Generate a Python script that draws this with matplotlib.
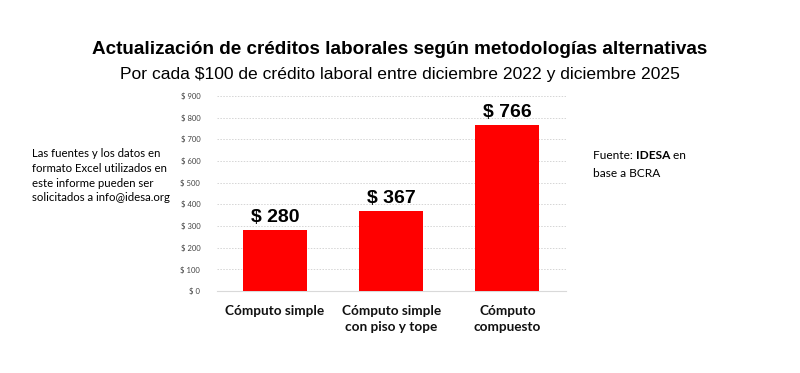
import matplotlib.pyplot as plt

categorias = ['Cómputo simple', 'Cómputo simple\ncon piso y tope', 'Cómputo\ncompuesto']
valores = [280, 367, 766]
ticks = [0, 100, 200, 300, 400, 500, 600, 700, 800, 900]

fig = plt.figure(figsize=(8, 3.73), dpi=100)
ax = fig.add_axes([0.271, 0.22, 0.436, 0.523])

x = range(len(categorias))
ax.bar(x, valores, width=0.55, color='#ff0000', zorder=3)
for i, v in zip(x, valores):
    ax.text(i, v + 20, f'$ {v}', ha='center', va='bottom', fontsize=14,
            fontweight='bold', family='Liberation Sans')

ax.set_xlim(-0.5, 2.5)
ax.set_ylim(0, 900)
ax.set_yticks(ticks)
ax.set_yticklabels([f'$ {t}' for t in ticks], fontsize=5.5, color='#444444',
                   family='Lato')
ax.set_xticks(list(x))
ax.set_xticklabels(categorias, fontsize=9.8, family='Lato', fontweight='bold',
                   color='#111111', linespacing=1.45)
ax.tick_params(axis='both', length=0)
ax.tick_params(axis='y', pad=12)
ax.tick_params(axis='x', pad=10)
ax.grid(axis='y', linestyle=(0, (1.5, 1.5)), color='#d5d5d5', linewidth=0.7, zorder=0)
for s in ['top', 'right', 'left']:
    ax.spines[s].set_visible(False)
ax.spines['bottom'].set_color('#d9d9d9')

fig.text(0.5, 0.868, 'Actualización de créditos laborales según metodologías alternativas',
         ha='center', va='center', fontsize=13.6, fontweight='bold', family='Liberation Sans')
fig.text(0.5, 0.8, 'Por cada $100 de crédito laboral entre diciembre 2022 y diciembre 2025',
         ha='center', va='center', fontsize=12.6, family='Liberation Sans')

fig.text(0.04, 0.603, 'Las fuentes y los datos en\nformato Excel utilizados en\neste informe pueden ser\nsolicitados a info@idesa.org',
         ha='left', va='top', fontsize=8.2, family='Lato', linespacing=1.42)

# linea "Fuente: IDESA en" armada por partes
renderer = fig.canvas.get_renderer()
xpos = 0.741
for txt, peso in [('Fuente:\u00a0', 'normal'), ('IDESA', 'bold'), ('\u00a0en', 'normal')]:
    t = fig.text(xpos, 0.597, txt, ha='left', va='top', fontsize=8.6, family='Lato',
                 fontweight=peso)
    bb = t.get_window_extent(renderer=renderer)
    xpos += bb.width / fig.bbox.width
fig.text(0.741, 0.549, 'base a BCRA', ha='left', va='top', fontsize=8.6, family='Lato')

fig.savefig('out.png', dpi=100)
